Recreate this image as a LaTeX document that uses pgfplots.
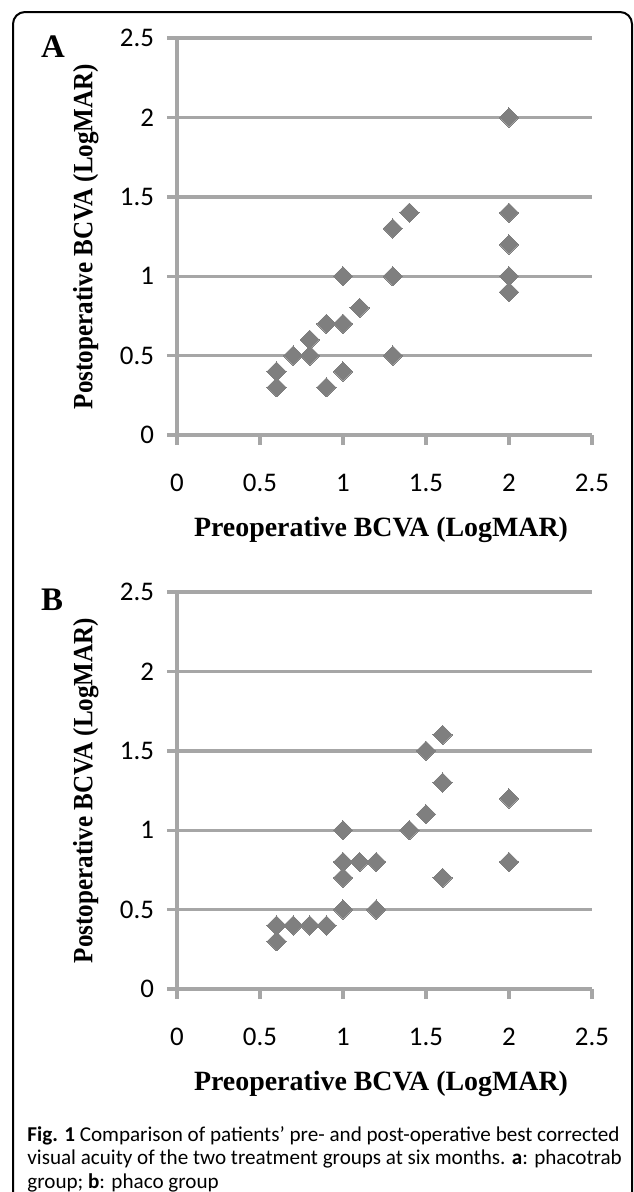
\documentclass[border=0pt]{standalone}
\usepackage{pgfplots}
\pgfplotsset{compat=1.18}
\usepackage{fontspec}
\usepackage{graphicx}
\setmainfont{Carlito}
\newfontfamily\serifbf{Liberation Serif}
\definecolor{axgray}{HTML}{A6A6A6}
\definecolor{mkgray}{HTML}{7F7F7F}

\pgfplotsset{
  acuity/.style={
    scale only axis, width=207.5bp, height=198.5bp,
    xmin=0, xmax=2.5, ymin=0, ymax=2.5,
    xtick={0,0.5,1,1.5,2,2.5}, ytick={0,0.5,1,1.5,2,2.5},
    axis lines*=left,
    axis line style={line width=1.7bp, axgray},
    ymajorgrids, major grid style={line width=1.7bp, axgray},
    tick align=outside, major tick length=5bp,
    major tick style={line width=1.7bp, axgray},
    tick label style={font=\fontsize{13.5}{16}\selectfont, black},
    /pgf/number format/assume math mode=true,
    xticklabel shift=11bp, yticklabel shift=3bp,
    label style={font=\serifbf\bfseries\fontsize{14}{16}\selectfont},
    xlabel={Preoperative BCVA (LogMAR)},
    ylabel={\scalebox{0.9}[1]{Postoperative BCVA (LogMAR)}},
    xlabel style={at={(axis description cs:0.4916,-0.24)}, anchor=center},
    ylabel style={at={(axis description cs:-0.22,0.5)}, anchor=center},
  },
  dots/.style={only marks, mark=square*, mark size=3.4bp,
    mark options={rotate=45, fill=mkgray, draw=mkgray, line width=0pt}},
}

\begin{document}
\begin{tikzpicture}
\useasboundingbox (0,0) rectangle (317bp,-596bp);

% outer frame, open at the bottom
\draw[line width=1bp, rounded corners=6bp]
  (6.5bp,-620bp) -- (6.5bp,-6bp) -- (316bp,-6bp) -- (316bp,-620bp);

% A: phacotrab group
\begin{axis}[acuity, at={(88.5bp,-217.5bp)}, anchor=south west]
\addplot[dots] coordinates {
  (0.6,0.4) (0.6,0.3) (0.7,0.5) (0.8,0.6) (0.8,0.5)
  (0.9,0.7) (0.9,0.3) (1.0,1.0) (1.0,0.7) (1.0,0.4)
  (1.1,0.8) (1.3,1.3) (1.3,1.0) (1.3,0.5) (1.4,1.4)
  (2.0,2.0) (2.0,1.4) (2.0,1.2) (2.0,1.0) (2.0,0.9)
};
\end{axis}
\node[font=\serifbf\bfseries\fontsize{16.5}{18}\selectfont, inner sep=0] at (26.5bp,-23.5bp) {A};

% B: phaco group
\begin{axis}[acuity, at={(88.5bp,-494.5bp)}, anchor=south west]
\addplot[dots] coordinates {
  (0.6,0.4) (0.6,0.3) (0.7,0.4) (0.8,0.4) (0.9,0.4)
  (1.0,1.0) (1.0,0.8) (1.0,0.7) (1.0,0.5) (1.1,0.8)
  (1.2,0.8) (1.2,0.5) (1.4,1.0) (1.5,1.5) (1.5,1.1)
  (1.6,1.6) (1.6,1.3) (1.6,0.7) (2.0,1.2) (2.0,0.8)
};
\end{axis}
\node[font=\serifbf\bfseries\fontsize{16.5}{18}\selectfont, inner sep=0] at (26bp,-300bp) {B};

% caption
\begin{scope}[every node/.style={anchor=base west, inner sep=0, font=\fontsize{10.6}{12}\selectfont}]
\node at (13.5bp,-570.5bp) {\textbf{Fig. 1} Comparison of patients’ pre- and post-operative best corrected};
\node at (13.5bp,-582.3bp) {visual acuity of the two treatment groups at six months. \textbf{a}: phacotrab};
\node at (13.5bp,-594bp) {group; \textbf{b}: phaco group};
\end{scope}
\end{tikzpicture}
\end{document}
